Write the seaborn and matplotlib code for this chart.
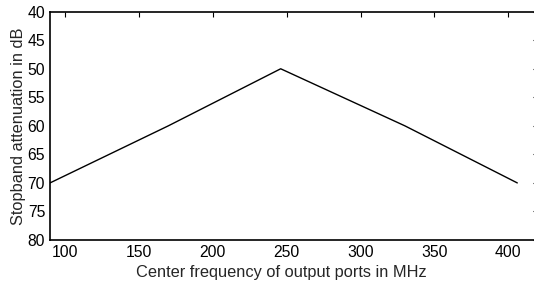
import matplotlib
matplotlib.use("Agg")
import matplotlib.pyplot as plt
import seaborn as sns
import pandas as pd

sns.set_theme(style="white")
plt.rcParams["font.family"] = ["Liberation Sans", "DejaVu Sans"]

# center frequency (MHz) and stopband attenuation (dB)
freq_mhz = [90, 170, 246, 330, 406]
atten_db = [70, 60, 50, 60, 70]
x_ticks = [100, 150, 200, 250, 300, 350, 400]
y_ticks = [40, 45, 50, 55, 60, 65, 70, 75, 80]

df = pd.DataFrame({"freq": freq_mhz, "atten": atten_db})

fig = plt.figure(figsize=(5.34, 2.86), dpi=100)
ax = fig.add_axes([50 / 534, 46 / 286, 488 / 534, 228.3 / 286])

sns.lineplot(data=df, x="freq", y="atten", ax=ax, color="black", linewidth=1.0)

ax.set_xlim(90, 420)
ax.set_ylim(80, 40)
ax.set_xticks(x_ticks)
ax.set_yticks(y_ticks)
ax.set_xlabel("Center frequency of output ports in MHz", fontsize=11.8)
ax.set_ylabel("Stopband attenuation in dB", fontsize=11.8, labelpad=1)
# the reference's x label sits a little left of the axes centre
ax.xaxis.set_label_coords(0.474, -0.108)
ax.tick_params(direction="in", length=3.5, width=0.8, labelsize=11.3,
               top=True, right=True, colors="black", pad=3.5)
for s in ax.spines.values():
    s.set_visible(True)
    s.set_color("black")
    s.set_linewidth(1.2)
ax.grid(False)

fig.savefig("out.png", dpi=100)
